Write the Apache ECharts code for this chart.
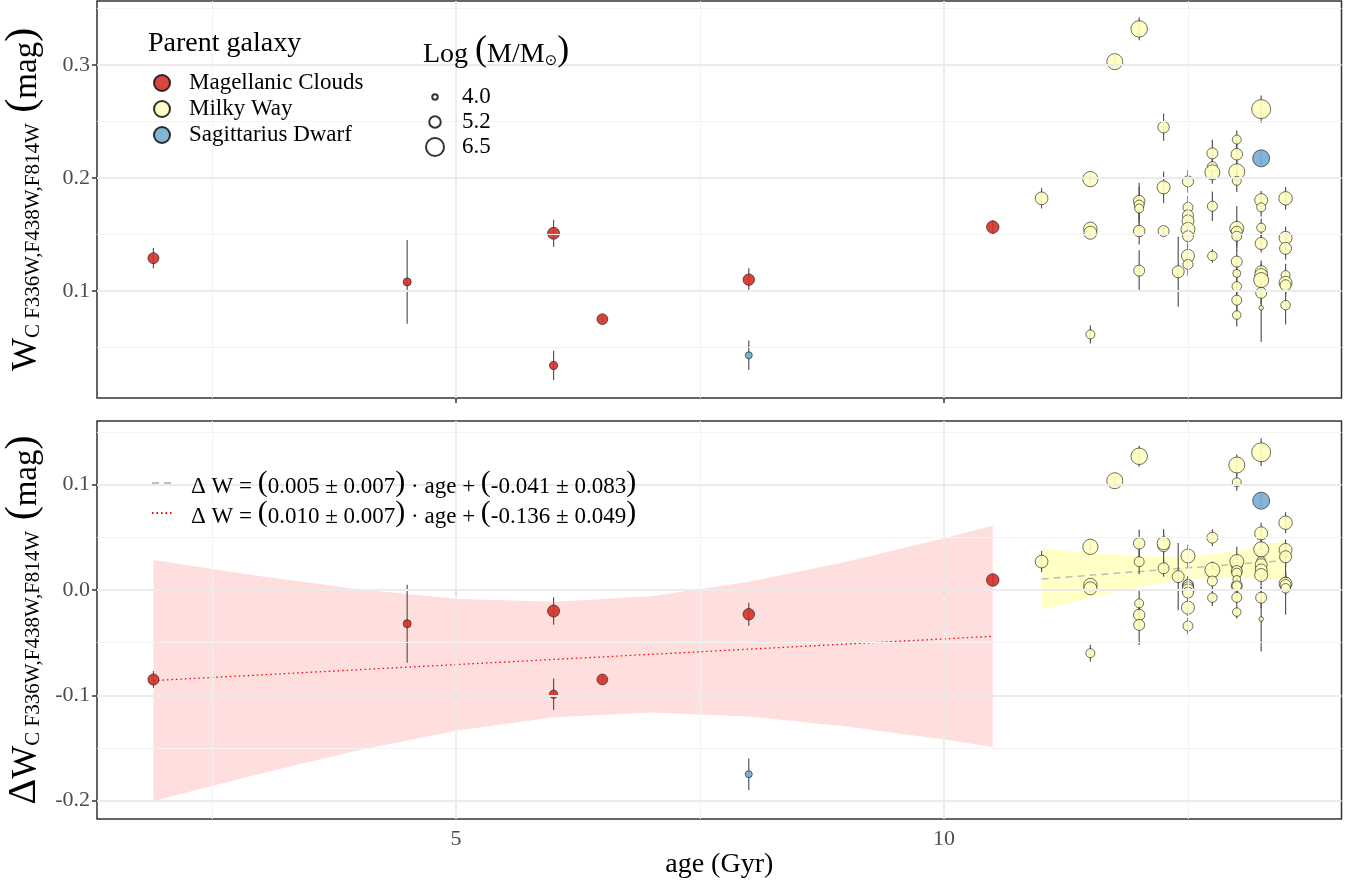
<!DOCTYPE html>
<html><head><meta charset="utf-8">
<script src="https://cdn.jsdelivr.net/npm/echarts@6/dist/echarts.min.js"></script>
<style>html,body{margin:0;padding:0;background:#fff}#c{width:1364px;height:884px}</style>
</head><body><div id="c"></div><script>
// ---------------- data ----------------
const age = [1.9, 4.5, 6.0, 6.0, 6.5, 8.0, 8.0, 10.5,
  11.0, 11.5, 11.5, 11.5, 11.5, 11.75,
  12.0, 12.0, 12.0, 12.0, 12.0, 12.0,
  12.25, 12.25, 12.25, 12.4,
  12.5, 12.5, 12.5, 12.5, 12.5, 12.5, 12.5, 12.5,
  12.75, 12.75, 12.75, 12.75, 12.75,
  13.0, 13.0, 13.0, 13.0, 13.0, 13.0, 13.0, 13.0, 13.0, 13.0, 13.0, 13.0,
  13.25, 13.25, 13.25, 13.25, 13.25, 13.25, 13.25, 13.25, 13.25, 13.25, 13.25,
  13.5, 13.5, 13.5, 13.5, 13.5, 13.5, 13.5];
const galaxy = ['MC','MC','MC','MC','MC','MC','Sgr','MC',
  'MW','MW','MW','MW','MW','MW',
  'MW','MW','MW','MW','MW','MW',
  'MW','MW','MW','MW',
  'MW','MW','MW','MW','MW','MW','MW','MW',
  'MW','MW','MW','MW','MW',
  'MW','MW','MW','MW','MW','MW','MW','MW','MW','MW','MW','MW',
  'MW','Sgr','MW','MW','MW','MW','MW','MW','MW','MW','MW',
  'MW','MW','MW','MW','MW','MW','MW'];
const wc = [0.129, 0.108, 0.151, 0.034, 0.075, 0.110, 0.043, 0.1565,
  0.182, 0.199, 0.155, 0.1515, 0.0615, 0.303,
  0.332, 0.1795, 0.176, 0.173, 0.153, 0.118,
  0.245, 0.1917, 0.153, 0.117,
  0.197, 0.174, 0.167, 0.162, 0.1545, 0.1485, 0.131, 0.1235,
  0.2218, 0.21, 0.205, 0.175, 0.131,
  0.234, 0.221, 0.2055, 0.1975, 0.1553, 0.1524, 0.1485, 0.126, 0.1155, 0.104, 0.0918, 0.0786,
  0.261, 0.2174, 0.1804, 0.174, 0.156, 0.142, 0.117, 0.114, 0.1096, 0.0983, 0.085,
  0.182, 0.147, 0.1377, 0.114, 0.1072, 0.105, 0.0874];
const wcErr = [0.009, 0.037, 0.012, 0.013, 0.003, 0.010, 0.013, 0.006,
  0.009, 0.004, 0.004, 0.004, 0.008, 0.004,
  0.010, 0.016, 0.016, 0.010, 0.012, 0.018,
  0.012, 0.014, 0.004, 0.031,
  0.010, 0.010, 0.010, 0.010, 0.010, 0.010, 0.010, 0.010,
  0.012, 0.010, 0.010, 0.013, 0.006,
  0.008, 0.010, 0.010, 0.010, 0.020, 0.010, 0.010, 0.010, 0.010, 0.010, 0.010, 0.010,
  0.012, 0.006, 0.008, 0.008, 0.008, 0.008, 0.010, 0.010, 0.010, 0.010, 0.030,
  0.010, 0.010, 0.010, 0.010, 0.010, 0.010, 0.017];
const dw = [-0.085, -0.032, -0.020, -0.099, -0.085, -0.023, -0.175, 0.0095,
  0.027, 0.041, 0.0047, 0.0016, -0.060, 0.1038,
  0.127, 0.0443, 0.0269, -0.0127, -0.0237, -0.0332,
  0.0418, 0.0443, 0.0206, 0.0127,
  0.0047, 0.005, 0.0025, 0.0, 0.0323, -0.0025, -0.0168, -0.0342,
  0.0497, 0.0158, 0.019, 0.0085, -0.0073,
  0.1023, 0.024, 0.1187, 0.022, 0.027, 0.018, 0.016, 0.004, 0.010, 0.004, -0.007, -0.021,
  0.1308, 0.0848, 0.0538, 0.0348, 0.0275, 0.024, 0.019, 0.0142, 0.0386, -0.0073, -0.0275,
  0.0639, 0.038, 0.0316, 0.0079, 0.006, 0.0047, 0.0016];
const dwErr = [0.008, 0.037, 0.013, 0.015, 0.003, 0.011, 0.015, 0.006,
  0.010, 0.004, 0.004, 0.004, 0.008, 0.004,
  0.010, 0.013, 0.012, 0.012, 0.010, 0.019,
  0.016, 0.010, 0.008, 0.032,
  0.008, 0.008, 0.008, 0.008, 0.011, 0.008, 0.008, 0.008,
  0.008, 0.008, 0.008, 0.008, 0.008,
  0.008, 0.010, 0.010, 0.010, 0.014, 0.010, 0.010, 0.010, 0.010, 0.010, 0.008, 0.006,
  0.013, 0.006, 0.010, 0.010, 0.010, 0.010, 0.010, 0.010, 0.010, 0.010, 0.031,
  0.010, 0.010, 0.010, 0.010, 0.010, 0.010, 0.025];
const logM = [5.1, 4.5, 5.3, 4.55, 5.05, 5.2, 4.3, 5.4,
  5.45, 5.96, 5.6, 5.5, 4.7, 6.1,
  6.2, 5.2, 4.9, 4.7, 5.2, 5.1,
  5.2, 5.5, 5.1, 5.3,
  5.1, 4.9, 5.1, 5.3, 5.7, 5.1, 5.5, 4.9,
  5.1, 4.9, 5.9, 4.9, 4.8,
  4.7, 5.2, 6.1, 4.7, 5.7, 5.1, 4.9, 5.1, 4.5, 4.8, 4.9, 4.6,
  6.7, 6.3, 5.5, 4.7, 4.7, 5.3, 5.3, 5.5, 5.9, 5.1, 3.8,
  5.6, 5.5, 5.3, 4.7, 5.5, 5.1, 4.8];

// fitted lines (end points) and confidence bands
const fitMWAge = [11.0, 13.5];
const fitMWVal = [0.0105, 0.028];
const fitMCAge = [1.9, 10.5];
const fitMCVal = [-0.086, -0.044];
const bandMWAge = [11.0, 11.5, 12.0, 12.5, 13.0, 13.5];
const bandMWHi  = [0.0395, 0.0354, 0.032, 0.0316, 0.037, 0.0465];
const bandMWLo  = [-0.0185, -0.0074, 0.0029, 0.0104, 0.012, 0.0095];
const bandMCAge = [1.9, 3.0, 4.0, 5.0, 6.0, 7.0, 8.0, 9.0, 10.0, 10.5];
const bandMCHi  = [0.0285, 0.013, 0.0007, -0.0082, -0.0112, -0.0059, 0.0078, 0.0268, 0.0491, 0.061];
const bandMCLo  = [-0.2005, -0.1742, -0.1523, -0.1336, -0.1208, -0.1163, -0.1202, -0.1296, -0.1421, -0.149];

// legend / tick texts
const galaxyKeys = ['MC', 'MW', 'Sgr'];
const galaxyLabels = ['Magellanic Clouds', 'Milky Way', 'Sagittarius Dwarf'];
const sizeKeys = [4.0, 5.2, 6.5];
const sizeLabels = ['4.0', '5.2', '6.5'];
const eqMW = ['0.005', '0.007', '-0.041', '0.083'];
const eqMC = ['0.010', '0.007', '-0.136', '0.049'];
const xTicks = [5, 10];
const yTicksTop = [0.1, 0.2, 0.3];
const yTicksBot = [-0.2, -0.1, 0.0, 0.1];
const xGridMinor = [2.5, 7.5, 12.5];
const yMinorTop = [0.05, 0.15, 0.25, 0.35];
const yMinorBot = [-0.15, -0.05, 0.05, 0.15];

// ---------------- styling ----------------
const FONT = '"Liberation Serif", "DejaVu Serif", serif';
const COLORS = { MC: '#d73027', MW: '#ffffbf', Sgr: '#74add1' };
function sizeOf(m) { return 5.5 + 5 * (m - 4); }

const chart = echarts.init(document.getElementById('c'), null, { renderer: 'canvas' });

function gridLines(xi, yi, majorY, minorY) {
  const major = { color: '#ebebeb', width: 1.8, type: 'solid' };
  const minor = { color: '#f3f3f3', width: 1, type: 'solid' };
  const d = [];
  xGridMinor.forEach(v => d.push({ xAxis: v, lineStyle: minor }));
  minorY.forEach(v => d.push({ yAxis: v, lineStyle: minor }));
  xTicks.forEach(v => d.push({ xAxis: v, lineStyle: major }));
  majorY.forEach(v => d.push({ yAxis: v, lineStyle: major }));
  return { type: 'line', xAxisIndex: xi, yAxisIndex: yi, data: [], z: 0, silent: true,
    markLine: { silent: true, symbol: ['none', 'none'], label: { show: false }, animation: false, data: d } };
}

function errSeries(xi, yi, vals, errs) {
  const data = [];
  for (let i = 0; i < age.length; i++) if (errs[i] > 0) data.push([age[i], vals[i] - errs[i], vals[i] + errs[i]]);
  return { type: 'custom', xAxisIndex: xi, yAxisIndex: yi, z: 3, silent: true, data,
    encode: { x: 0, y: [1, 2] },
    renderItem(params, api) {
      const p1 = api.coord([api.value(0), api.value(1)]);
      const p2 = api.coord([api.value(0), api.value(2)]);
      return { type: 'line', shape: { x1: p1[0], y1: p1[1], x2: p2[0], y2: p2[1] },
        style: { stroke: '#555', lineWidth: 1.2 } };
    } };
}

function bandSeries(xi, yi, xs, hi, lo, fill) {
  const data = xs.map((x, i) => [x, lo[i], hi[i]]);
  return { type: 'custom', xAxisIndex: xi, yAxisIndex: yi, z: 1, silent: true, data,
    encode: { x: 0, y: [1, 2] },
    renderItem(params, api) {
      if (params.dataIndex !== 0) return null;
      const pts = [];
      for (let i = 0; i < xs.length; i++) pts.push(api.coord([xs[i], hi[i]]));
      for (let i = xs.length - 1; i >= 0; i--) pts.push(api.coord([xs[i], lo[i]]));
      return { type: 'polygon', shape: { points: pts }, style: { fill: fill } };
    } };
}

function pointSeries(xi, yi, vals, key, label) {
  const data = [];
  for (let i = 0; i < age.length; i++) if (galaxy[i] === key) data.push([age[i], vals[i], logM[i]]);
  return { type: 'scatter', name: label, xAxisIndex: xi, yAxisIndex: yi, z: 4, silent: true, data,
    symbol: 'circle', symbolSize: v => sizeOf(v[2]),
    itemStyle: { color: COLORS[key], borderColor: '#1a1a1a', borderWidth: 0.7, opacity: 0.9 } };
}

const series = [];
series.push(gridLines(0, 0, yTicksTop, yMinorTop));
series.push(gridLines(1, 1, yTicksBot, yMinorBot));
series.push(bandSeries(1, 1, bandMCAge, bandMCHi, bandMCLo, 'rgba(255,0,0,0.13)'));
series.push(bandSeries(1, 1, bandMWAge, bandMWHi, bandMWLo, 'rgba(255,255,120,0.42)'));
const eqText = e => '{t|Δ W = }{p|(}{t|' + e[0] + ' ± ' + e[1] + '}{p|)}{t| · age + }{p|(}{t|' + e[2] + ' ± ' + e[3] + '}{p|)}';
const eqNameMW = 'fitMW', eqNameMC = 'fitMC';
series.push({ type: 'line', name: eqNameMW, xAxisIndex: 1, yAxisIndex: 1, z: 2, silent: true, symbol: 'none', showSymbol: false,
  data: fitMWAge.map((x, i) => [x, fitMWVal[i]]),
  lineStyle: { color: '#bdbdbd', width: 1.5, type: [7, 5] }, itemStyle: { color: '#bdbdbd' } });
series.push({ type: 'line', name: eqNameMC, xAxisIndex: 1, yAxisIndex: 1, z: 2, silent: true, symbol: 'none', showSymbol: false,
  data: fitMCAge.map((x, i) => [x, fitMCVal[i]]),
  lineStyle: { color: '#ff0000', width: 1.3, type: [1.5, 3] }, itemStyle: { color: '#ff0000' } });
series.push(errSeries(0, 0, wc, wcErr));
series.push(errSeries(1, 1, dw, dwErr));
galaxyKeys.forEach((k, i) => {
  series.push(pointSeries(0, 0, wc, k, galaxyLabels[i]));
  series.push(pointSeries(1, 1, dw, k, galaxyLabels[i]));
});
sizeLabels.forEach(s => series.push({ type: 'scatter', name: s, xAxisIndex: 0, yAxisIndex: 0, data: [],
  itemStyle: { color: '#fff', borderColor: '#000', borderWidth: 0.8 } }));

const xCommon = {
  type: 'value', min: 1.322, max: 14.073, axisLine: { show: false }, splitLine: { show: false },
  axisTick: { show: true, customValues: xTicks, length: 5, lineStyle: { color: '#333', width: 1.5 } }
};
const yCommon = {
  type: 'value', axisLine: { show: false }, splitLine: { show: false },
  axisTick: { show: true, length: 5, lineStyle: { color: '#333', width: 1.5 } }
};
const labelStyle = { color: '#4d4d4d', fontSize: 22, fontFamily: FONT, margin: 7 };
const nameRich = {
  d: { fontSize: 40, fontFamily: FONT, color: '#000', lineHeight: 42, verticalAlign: 'bottom' },
  w: { fontSize: 35, fontFamily: FONT, color: '#000', lineHeight: 42, verticalAlign: 'bottom' },
  s: { fontSize: 21, fontFamily: FONT, color: '#000', lineHeight: 14, verticalAlign: 'bottom' },
  g: { fontSize: 21, fontFamily: FONT, lineHeight: 14, verticalAlign: 'bottom' },
  m: { fontSize: 33, fontFamily: FONT, color: '#000', lineHeight: 42, verticalAlign: 'bottom' },
  p: { fontSize: 42, fontFamily: FONT, color: '#000', lineHeight: 44, verticalAlign: 'bottom' }
};

const sizeLegendY = [97, 122, 147];
const legends = [{
  data: galaxyLabels.map(n => ({ name: n, icon: 'circle' })),
  orient: 'vertical', left: 153, top: 71, padding: 0, itemGap: 2, itemWidth: 16, itemHeight: 16,
  selectedMode: false, z: 6,
  textStyle: { fontFamily: FONT, fontSize: 23, color: '#000', lineHeight: 24, padding: [0, 0, 0, 14] }
}];
sizeKeys.forEach((m, i) => {
  const d = sizeOf(m);
  legends.push({
    data: [{ name: sizeLabels[i], icon: 'circle' }], orient: 'vertical',
    left: 434 - d / 2, top: sizeLegendY[i] - 12, padding: 0, itemWidth: d, itemHeight: d,
    selectedMode: false, z: 6,
    textStyle: { fontFamily: FONT, fontSize: 23, color: '#000', lineHeight: 24, padding: [0, 0, 0, 22 - d / 2] }
  });
});
legends.push({
  data: [eqNameMW, eqNameMC], orient: 'vertical', left: 151, top: 468, padding: 0, itemGap: 0,
  itemWidth: 21, itemHeight: 14, selectedMode: false, z: 6,
  itemStyle: { opacity: 0 },
  formatter: n => n === eqNameMW ? eqText(eqMW) : eqText(eqMC),
  textStyle: { fontFamily: FONT, fontSize: 23, color: '#000', lineHeight: 30, padding: [0, 0, 0, 13],
    rich: { t: { fontFamily: FONT, fontSize: 23, color: '#000', lineHeight: 30, verticalAlign: 'bottom' },
            p: { fontFamily: FONT, fontSize: 30, color: '#000', lineHeight: 30, verticalAlign: 'bottom' } } }
});

const gridCommon = { left: 97, width: 1244.5, show: true, borderColor: '#333', borderWidth: 1.5,
  backgroundColor: 'transparent', containLabel: false, outerBoundsMode: 'none' };
const option = {
  animation: false,
  backgroundColor: '#fff',
  grid: [
    Object.assign({ top: 1, height: 397 }, gridCommon),
    Object.assign({ top: 421, height: 398 }, gridCommon)
  ],
  xAxis: [
    Object.assign({}, xCommon, { gridIndex: 0, axisLabel: { show: false, customValues: xTicks } }),
    Object.assign({}, xCommon, { gridIndex: 1, axisLabel: Object.assign({ customValues: xTicks }, labelStyle, { margin: 9 }),
      name: 'age (Gyr)', nameLocation: 'middle', nameGap: 32,
      nameTextStyle: { color: '#000', fontSize: 28, fontFamily: FONT } })
  ],
  yAxis: [
    Object.assign({}, yCommon, { gridIndex: 0, min: 0.0052, max: 0.3567,
      axisTick: Object.assign({}, yCommon.axisTick, { customValues: yTicksTop }),
      axisLabel: Object.assign({ customValues: yTicksTop, formatter: v => v.toFixed(1) }, labelStyle),
      name: '{w|W}{s|C F336W,F438W,F814W}{g|  }{p|(}{m|mag}{p|)}', nameLocation: 'middle', nameGap: 53, nameRotate: 90,
      nameTextStyle: { rich: nameRich } }),
    Object.assign({}, yCommon, { gridIndex: 1, min: -0.2175, max: 0.1605,
      axisTick: Object.assign({}, yCommon.axisTick, { customValues: yTicksBot }),
      axisLabel: Object.assign({ customValues: yTicksBot, formatter: v => v.toFixed(1) }, labelStyle),
      name: '{d|Δ}{w|W}{s|C F336W,F438W,F814W}{g|  }{p|(}{m|mag}{p|)}', nameLocation: 'middle', nameGap: 53, nameRotate: 90,
      nameTextStyle: { rich: nameRich } })
  ],
  title: [
    { text: 'Parent galaxy', left: 148, top: 29, padding: 0, z: 6,
      textStyle: { fontFamily: FONT, fontSize: 28, fontWeight: 'normal', color: '#000', lineHeight: 30 } },
    { text: '{t|Log }{p|(}{t|M/M}{s|⊙}{p|)}', left: 423, top: 31, padding: 0, z: 6,
      textStyle: { fontWeight: 'normal', rich: {
        t: { fontFamily: FONT, fontSize: 28, fontWeight: 'normal', color: '#000', lineHeight: 36, verticalAlign: 'bottom' },
        p: { fontFamily: FONT, fontSize: 36, fontWeight: 'normal', color: '#000', lineHeight: 38, verticalAlign: 'bottom' },
        s: { fontFamily: '"DejaVu Sans", sans-serif', fontSize: 15, fontWeight: 'normal', color: '#000', lineHeight: 26, verticalAlign: 'bottom' } } } }
  ],
  legend: legends,
  graphic: [
    { type: 'rect', shape: { x: 137, y: 18, width: 243, height: 142 }, style: { fill: '#fff' }, z: 1, silent: true },
    { type: 'rect', shape: { x: 407, y: 18, width: 182, height: 157 }, style: { fill: '#fff' }, z: 1, silent: true },
    { type: 'rect', shape: { x: 134, y: 452, width: 511, height: 93 }, style: { fill: '#fff' }, z: 1, silent: true }
  ],
  series: series
};
chart.setOption(option);
</script></body></html>
